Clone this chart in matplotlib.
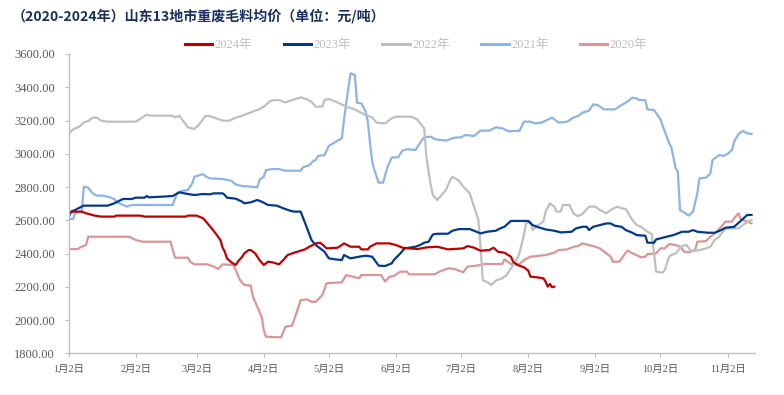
import matplotlib
matplotlib.use("Agg")
import matplotlib.pyplot as plt
import pandas as pd

# ---- data: x = days after Jan 2, y = price (元/吨) ----
d2024 = [0,2,6,8,12,15,21,22,33,35,54,55,59,62,64,66,68,70,71,72,73,75,77,78,80,81,83,84,86,88,90,92,94,97,99,101,104,107,109,111,114,116,117,119,124,126,127,130,134,135,138,139,142,148,151,154,157,161,165,170,175,182,184,187,190,194,196,198,201,204,205,207,210,212,213,216,219,220,221,222,223,224]
v2024 = [2642,2652,2652,2642,2628,2622,2622,2628,2628,2622,2622,2628,2628,2612,2582,2551,2517,2481,2435,2411,2371,2347,2331,2351,2380,2401,2421,2421,2401,2361,2331,2351,2347,2335,2361,2391,2405,2417,2425,2441,2461,2465,2455,2431,2435,2451,2461,2441,2441,2425,2425,2441,2461,2461,2451,2435,2431,2427,2437,2441,2425,2431,2445,2435,2417,2421,2435,2411,2405,2381,2351,2331,2317,2297,2261,2257,2251,2231,2201,2217,2197,2201]

d2023 = [0,1,3,5,7,18,21,25,29,31,35,36,37,43,48,51,55,58,62,65,67,71,72,73,77,80,81,84,87,89,92,96,99,102,104,107,110,112,114,116,118,120,123,126,127,130,134,137,140,143,146,149,150,153,155,160,162,164,166,168,170,175,177,180,185,187,190,193,197,199,201,204,212,214,216,220,224,227,232,234,237,239,240,242,245,248,250,252,255,257,260,262,266,267,270,271,274,277,279,283,286,288,290,295,298,301,303,307,310,313,315]
v2023 = [2618,2652,2662,2676,2688,2688,2702,2728,2728,2736,2736,2746,2738,2742,2746,2768,2758,2752,2758,2756,2762,2762,2752,2736,2730,2712,2702,2708,2722,2712,2692,2688,2672,2658,2652,2652,2551,2481,2451,2431,2411,2371,2365,2361,2391,2371,2381,2387,2381,2327,2325,2341,2361,2401,2431,2441,2451,2465,2471,2515,2519,2519,2537,2547,2547,2537,2521,2531,2537,2551,2561,2596,2596,2571,2561,2545,2537,2527,2531,2551,2561,2561,2541,2561,2571,2581,2581,2567,2561,2541,2525,2511,2507,2465,2465,2485,2495,2505,2511,2531,2531,2541,2531,2525,2525,2541,2555,2561,2596,2632,2632]

d2022 = [0,2,5,7,9,11,13,15,18,31,34,36,38,48,49,51,53,55,58,60,63,65,68,71,74,77,80,84,88,90,93,95,97,100,103,107,110,112,114,117,118,120,124,128,132,134,137,140,142,146,149,151,157,159,161,164,165,167,168,170,172,174,176,177,180,182,184,185,187,189,190,191,194,195,197,200,202,204,207,208,210,211,213,214,216,219,220,222,224,225,227,228,231,233,235,237,240,243,245,248,250,253,255,257,260,262,264,267,269,270,271,274,275,277,278,280,283,285,287,290,294,296,298,300,303,309,311,314,315]
v2022 = [3119,3147,3163,3189,3197,3217,3217,3199,3193,3193,3219,3235,3229,3229,3219,3229,3193,3159,3149,3173,3227,3227,3213,3199,3199,3217,3229,3249,3269,3283,3317,3323,3323,3309,3323,3339,3327,3313,3283,3283,3323,3329,3309,3283,3267,3253,3233,3219,3187,3183,3213,3223,3223,3219,3203,3153,2983,2812,2752,2722,2752,2782,2842,2862,2838,2802,2776,2762,2682,2602,2441,2241,2221,2211,2237,2251,2271,2311,2371,2405,2511,2582,2592,2541,2567,2592,2652,2702,2682,2652,2652,2692,2692,2638,2625,2638,2682,2682,2662,2642,2662,2682,2672,2668,2602,2572,2561,2531,2517,2401,2291,2285,2301,2381,2391,2401,2445,2451,2417,2417,2431,2441,2481,2501,2551,2551,2571,2598,2602]

d2021 = [0,2,3,5,6,7,9,11,13,16,19,21,22,24,27,29,48,50,52,55,57,58,62,63,65,71,75,77,80,84,87,88,90,91,94,97,100,107,108,111,113,114,115,118,120,122,126,127,128,130,132,133,135,137,138,139,140,141,143,145,147,149,152,154,156,160,162,164,167,169,174,178,181,183,187,190,194,197,200,203,208,210,213,215,218,223,226,230,233,235,237,240,242,244,247,252,255,257,260,262,263,266,267,270,273,275,277,278,280,281,282,284,286,288,290,291,294,296,297,300,302,304,306,307,309,311,313,315]
v2021 = [2608,2608,2642,2652,2652,2802,2796,2762,2748,2748,2738,2728,2712,2698,2682,2692,2692,2762,2776,2782,2822,2862,2878,2866,2852,2848,2838,2815,2806,2802,2798,2842,2862,2902,2908,2908,2898,2898,2918,2932,2958,2962,2986,2992,3047,3063,3093,3203,3303,3484,3474,3307,3303,3253,3193,3063,2952,2902,2826,2826,2918,2977,2979,3019,3027,3023,3063,3099,3103,3087,3079,3097,3099,3113,3107,3139,3139,3159,3153,3135,3139,3193,3193,3183,3187,3217,3187,3193,3219,3227,3247,3259,3297,3293,3267,3267,3293,3307,3337,3333,3323,3323,3267,3263,3207,3133,3063,3039,2912,2892,2662,2646,2628,2652,2762,2852,2856,2882,2962,2992,2987,2999,3023,3073,3119,3137,3123,3119]

d2020 = [0,4,6,8,9,28,31,34,47,49,55,56,58,64,67,69,71,76,79,81,84,85,87,89,90,91,98,100,103,105,107,110,112,114,117,119,126,128,131,134,135,144,146,148,150,153,156,157,169,171,175,178,182,184,188,192,200,201,204,208,210,213,216,220,224,226,230,233,235,237,240,243,245,247,250,251,254,257,258,260,262,264,266,267,271,273,275,277,280,282,284,286,289,290,294,296,299,301,303,306,307,309,310,313,315]
v2020 = [2427,2427,2441,2451,2501,2501,2481,2471,2471,2375,2375,2351,2335,2335,2321,2307,2335,2331,2241,2211,2207,2140,2080,2020,1940,1900,1896,1960,1966,2040,2120,2124,2110,2110,2150,2221,2227,2271,2261,2251,2271,2271,2231,2261,2265,2291,2291,2275,2275,2291,2311,2307,2287,2321,2327,2337,2337,2365,2337,2337,2361,2381,2385,2391,2405,2421,2425,2441,2445,2461,2451,2441,2431,2411,2381,2351,2351,2405,2417,2401,2391,2377,2381,2397,2401,2431,2431,2457,2451,2441,2411,2407,2421,2471,2475,2501,2531,2561,2592,2592,2612,2642,2606,2592,2582]

series = [
    ("2024年", d2024, v2024, "#C00000"),
    ("2023年", d2023, v2023, "#003A8C"),
    ("2022年", d2022, v2022, "#BFBFBF"),
    ("2021年", d2021, v2021, "#8DB4E2"),
    ("2020年", d2020, v2020, "#DA9694"),
]

tick_months = [1,2,3,4,5,6,7,8,9,10,11]
base = pd.Timestamp("2023-01-02")
tick_pos = [(pd.Timestamp(2023, m, 2) - base).days for m in tick_months]
tick_lab = [f"{m}月2日" for m in tick_months]
y_ticks = list(range(1800, 3601, 200))

# ---- figure ----
fig = plt.figure(figsize=(7.84, 3.95), dpi=100)
ax = fig.add_axes([68.7/784, 1-353.3/395, (755-68.7)/784, (353.3-54)/395])

handles = {}
for name, d, v, c in reversed(series):
    ln, = ax.plot(d, v, color=c, lw=1.6, solid_joinstyle="round")
    handles[name] = ln

ax.set_xlim(0, 316.6)
ax.set_ylim(1800, 3600)
ax.set_yticks(y_ticks)
ax.set_yticklabels([f"{t:.2f}" for t in y_ticks],
                   fontfamily="Liberation Serif", fontsize=9, color="#595959")
ax.set_xticks(tick_pos)
ax.set_xticklabels(tick_lab, fontfamily=["Liberation Serif", "Noto Sans CJK SC"],
                   fontsize=7.5, color="#595959")
for s in ["top", "right"]:
    ax.spines[s].set_visible(False)
for s in ["left", "bottom"]:
    ax.spines[s].set_color("#BFBFBF")
    ax.spines[s].set_linewidth(1.0)
ax.tick_params(axis="y", length=3, color="#BFBFBF", pad=7)
ax.tick_params(axis="x", length=3, color="#BFBFBF", pad=5)

fig.text(12/784, 1-16/395, "（2020-2024年）山东13地市重废毛料均价（单位：元/吨）",
         fontfamily="Noto Sans CJK SC", fontweight="bold", fontsize=10.1,
         color="#1A3060", ha="left", va="center")

names = [s[0] for s in series]
leg = fig.legend([handles[n] for n in names], names, loc="center",
                 bbox_to_anchor=(416/784, 1-45/395), ncol=5, frameon=False,
                 handlelength=2.2, handletextpad=0.2, columnspacing=2.5,
                 prop={"family": ["Liberation Serif", "Noto Sans CJK SC"], "size": 9})
for t in leg.get_texts():
    t.set_color("#BFBFBF")
for l in leg.get_lines():
    l.set_linewidth(2.2)

fig.savefig("out.png", dpi=100)
